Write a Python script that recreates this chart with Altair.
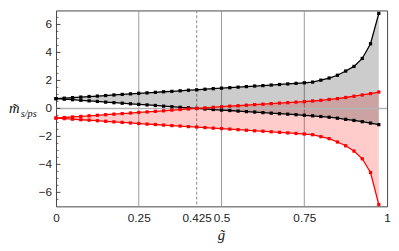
import altair as alt
import pandas as pd

g = [0.0, 0.025, 0.05, 0.075, 0.1, 0.125, 0.15, 0.175, 0.2, 0.225,
     0.25, 0.275, 0.3, 0.325, 0.35, 0.375, 0.4, 0.425, 0.45, 0.475,
     0.5, 0.525, 0.55, 0.575, 0.6, 0.625, 0.65, 0.675, 0.7, 0.725,
     0.75, 0.775, 0.8, 0.825, 0.85, 0.875, 0.9, 0.925, 0.95, 0.975]

black_upper = [0.70, 0.73, 0.77, 0.81, 0.85, 0.88, 0.92, 0.96, 1.00, 1.04,
               1.08, 1.11, 1.15, 1.19, 1.22, 1.26, 1.30, 1.33, 1.37, 1.41,
               1.45, 1.48, 1.52, 1.56, 1.60, 1.63, 1.67, 1.71, 1.75, 1.79,
               1.83, 1.88, 2.02, 2.17, 2.37, 2.67, 3.00, 3.57, 4.62, 6.79]
black_lower = [0.70, 0.66, 0.62, 0.58, 0.54, 0.50, 0.45, 0.41, 0.37, 0.33,
               0.29, 0.25, 0.21, 0.16, 0.12, 0.08, 0.04, 0.00, -0.04, -0.08,
               -0.12, -0.15, -0.19, -0.23, -0.26, -0.30, -0.34, -0.38, -0.41, -0.45,
               -0.49, -0.53, -0.58, -0.63, -0.70, -0.78, -0.86, -0.95, -1.05, -1.16]
red_upper = [-0.69, -0.65, -0.61, -0.57, -0.53, -0.49, -0.45, -0.41, -0.37, -0.33,
             -0.29, -0.25, -0.21, -0.17, -0.12, -0.08, -0.04, 0.00, 0.04, 0.08,
             0.12, 0.16, 0.19, 0.23, 0.27, 0.30, 0.34, 0.38, 0.41, 0.45,
             0.48, 0.53, 0.58, 0.64, 0.70, 0.78, 0.87, 0.96, 1.06, 1.17]
red_lower = [-0.69, -0.73, -0.77, -0.81, -0.84, -0.88, -0.92, -0.96, -1.00, -1.04,
             -1.08, -1.12, -1.15, -1.19, -1.23, -1.26, -1.30, -1.33, -1.37, -1.41,
             -1.44, -1.48, -1.52, -1.56, -1.60, -1.63, -1.67, -1.71, -1.75, -1.79,
             -1.83, -1.88, -2.02, -2.16, -2.40, -2.67, -3.05, -3.60, -4.58, -6.87]

x_ticks = [0, 0.25, 0.425, 0.5, 0.75, 1]
y_ticks = [-6, -4, -2, 0, 2, 4, 6]
y_tick_labels = ["\u22126", "\u22124", "\u22122", "0", "2", "4", "6"]
y_minor = [-6.5, -5.5, -5, -4.5, -3.5, -3, -2.5, -1.5, -1, -0.5,
           0.5, 1, 1.5, 2.5, 3, 3.5, 4.5, 5, 5.5, 6.5]
grid_solid = [0.25, 0.5, 0.75]
grid_dashed = [0.425]

df = pd.DataFrame({"g": g, "bu": black_upper, "bl": black_lower,
                   "ru": red_upper, "rl": red_lower})

xs = alt.Scale(domain=[0, 1], nice=False, zero=False)
ys = alt.Scale(domain=[-7, 7], nice=False, zero=False)


def X():
    return alt.X("g:Q", scale=xs, title=None)


def Y(f):
    return alt.Y(f, scale=ys, title=None)


base_axes = alt.Chart(pd.DataFrame({"g": [0.0], "v": [0.0]})).mark_point(opacity=0).encode(
    x=alt.X("g:Q", scale=xs, title=None,
            axis=alt.Axis(values=x_ticks, labelExpr="'' + datum.value", labelFlush=False,
                          labelPadding=6, labelOverlap=False)),
    y=alt.Y("v:Q", scale=ys, title=None,
            axis=alt.Axis(values=y_ticks, labels=False)),
)

gs = alt.Chart(pd.DataFrame({"g": grid_solid})).mark_rule(color="#9a9a9a", strokeWidth=1).encode(
    x=X())
gd = alt.Chart(pd.DataFrame({"g": grid_dashed})).mark_rule(color="#8a8a8a", strokeWidth=1,
                                                           strokeDash=[3, 2]).encode(x=X())

red_area = alt.Chart(df).mark_area(color="#ff0000", opacity=0.2).encode(
    x=X(), y=Y("rl:Q"), y2="ru:Q")
black_area = alt.Chart(df).mark_area(color="#000000", opacity=0.2).encode(
    x=X(), y=Y("bl:Q"), y2="bu:Q")

zero = alt.Chart(pd.DataFrame({"v": [0.0]})).mark_rule(color="#b4b4b4", strokeWidth=1.5).encode(
    y=Y("v:Q"))

layers = [base_axes, gs, gd, red_area, black_area, zero]
for col, colr in [("bu", "#000000"), ("bl", "#000000"), ("ru", "#ff0000"), ("rl", "#ff0000")]:
    layers.append(alt.Chart(df).mark_line(color=colr, strokeWidth=1.3).encode(
        x=X(), y=Y(f"{col}:Q")))
    layers.append(alt.Chart(df).mark_point(color=colr, filled=True, size=11, opacity=1,
                                           shape="square").encode(
        x=X(), y=Y(f"{col}:Q")))

major_t = alt.Chart(pd.DataFrame({"v": y_ticks})).mark_rule(color="#444", strokeWidth=1).encode(
    y=Y("v:Q"), x=alt.value(0), x2=alt.value(4.5))
minor_t = alt.Chart(pd.DataFrame({"v": y_minor})).mark_rule(color="#444", strokeWidth=0.8).encode(
    y=Y("v:Q"), x=alt.value(0), x2=alt.value(2.5))
ylabels = alt.Chart(pd.DataFrame({"v": y_ticks, "t": y_tick_labels})).mark_text(
    font="Liberation Sans", fontSize=12, color="#222", align="right", baseline="middle").encode(
    y=Y("v:Q"), x=alt.value(-4), text="t:N")
layers += [major_t, minor_t, ylabels]

ytitle1 = alt.Chart(pd.DataFrame({"t": ["m\u0303"]})).mark_text(
    font="Liberation Serif", fontStyle="italic", fontSize=15, align="left",
    baseline="alphabetic", color="#111").encode(text="t:N", x=alt.value(-48), y=alt.value(105))
ytitle2 = alt.Chart(pd.DataFrame({"t": ["s/ps"]})).mark_text(
    font="Liberation Serif", fontStyle="italic", fontSize=10.5, align="left",
    baseline="alphabetic", color="#111").encode(text="t:N", x=alt.value(-36), y=alt.value(109))
xtitle = alt.Chart(pd.DataFrame({"t": ["g\u0303"]})).mark_text(
    font="Liberation Serif", fontStyle="italic", fontSize=15, align="center",
    baseline="alphabetic", color="#111").encode(text="t:N", x=alt.value(169), y=alt.value(234))
layers += [ytitle1, ytitle2, xtitle]

chart = alt.layer(*layers).properties(
    width=338, height=200,
    padding={"left": 49, "top": 0, "right": 4, "bottom": 40},
    autosize="none",
).configure(background="white").configure_view(
    stroke="#444", strokeWidth=1
).configure_axis(
    grid=False, ticks=False, domain=False, labelOverlap=False,
    labelFont="Liberation Sans", labelFontSize=12, labelColor="#222",
)

chart.save("out.html", embed_options={"renderer": "svg", "actions": False})
